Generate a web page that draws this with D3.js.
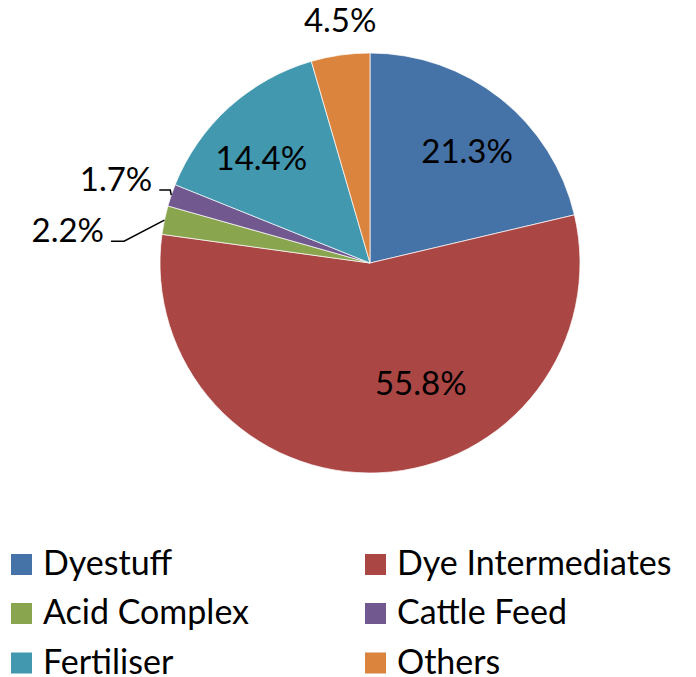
<!DOCTYPE html>
<html><head><meta charset="utf-8">
<script src="https://cdn.jsdelivr.net/npm/d3@7"></script>
<style>body{margin:0;background:#fff;} text{font-family:Lato,"Open Sans",sans-serif;}</style>
</head><body>
<svg id="c" width="696" height="677"></svg>
<script>
const categories = ["Dyestuff","Dye Intermediates","Acid Complex","Cattle Feed","Fertiliser","Others"];
const values = [21.3, 55.8, 2.2, 1.7, 14.4, 4.5];
const labels = ["21.3%","55.8%","2.2%","1.7%","14.4%","4.5%"];
const colors = ["#4572A7","#AA4643","#89A54E","#71588F","#4198AF","#DB843D"];

// label layout: polar angle (deg from 12 o'clock) and radius of label centre
const labelLayout = [
  {a:41, r:148},
  {a:157, r:130},
  {a:276.2, r:304, leader:true, bend:13},
  {a:288.3, r:267.5, leader:true, bend:11},
  {a:314, r:151},
  {a:353, r:245}
];

const svg = d3.select("#c");
const cx = 370, cy = 263, R = 210;
const g = svg.append("g").attr("transform",`translate(${cx},${cy})`);
const pie = d3.pie().sort(null).value(d=>d)(values);
const arc = d3.arc().innerRadius(0).outerRadius(R);
g.selectAll("path").data(pie).join("path")
  .attr("d",arc).attr("fill",(d,i)=>colors[i]).attr("stroke","#fff").attr("stroke-width",0.7);

const FS = 33;
function pol(a,r){const t=a*Math.PI/180;return [r*Math.sin(t),-r*Math.cos(t)];}
pie.forEach((d,i)=>{
  const L = labelLayout[i];
  const [x,y] = pol(L.a,L.r);
  const t = g.append("text").attr("x",x).attr("y",y).attr("dy","0.36em")
    .attr("text-anchor","middle").attr("font-size",FS).attr("fill","#000").text(labels[i]);
  if(L.leader){
    const w = t.node().getComputedTextLength();
    const ex = x + w/2 + 7, ey = y + 11;
    const mid = (d.startAngle+d.endAngle)/2;
    const px = R*Math.sin(mid), py = -R*Math.cos(mid);
    g.append("path").attr("d",`M${ex},${ey}L${ex+L.bend},${ey}L${px},${py}`)
      .attr("fill","none").attr("stroke","#000").attr("stroke-width",1.5);
  }
});

// legend
const LFS = 34;
const leg = svg.append("g");
const colX = [11, 365], rowY = [564.5, 613.5, 663];
categories.forEach((c,i)=>{
  const x = colX[i%2], y = rowY[Math.floor(i/2)];
  leg.append("rect").attr("x",x).attr("y",y-10.5).attr("width",21).attr("height",21).attr("fill",colors[i]);
  leg.append("text").attr("x",x+32).attr("y",y+10.5).attr("font-size",LFS).attr("fill","#000").text(c);
});
</script>
</body></html>
